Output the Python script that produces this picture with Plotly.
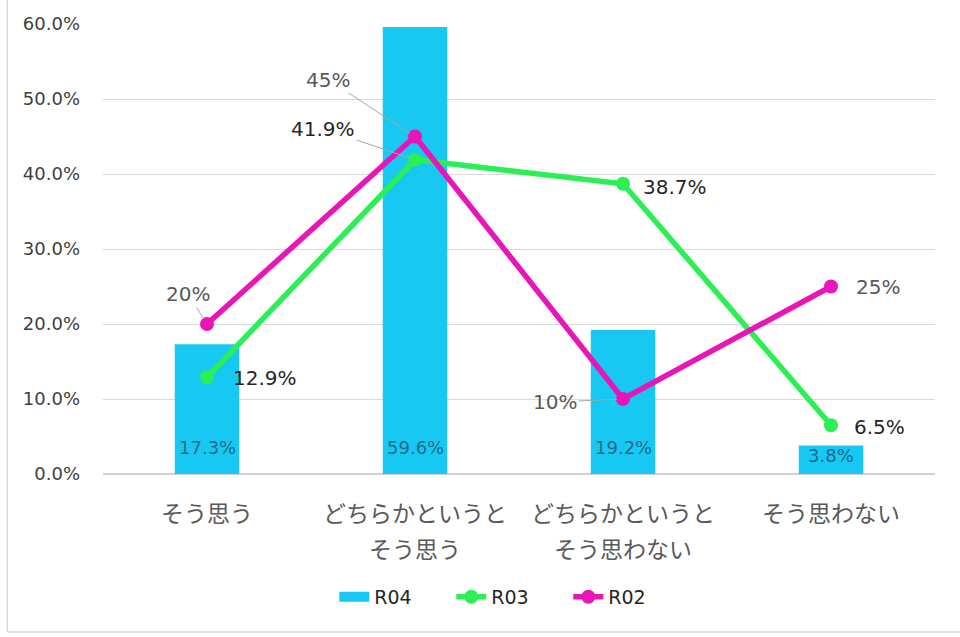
import plotly.graph_objects as go

categories = ["そう思う", "どちらかというと<br>そう思う", "どちらかというと<br>そう思わない", "そう思わない"]
r04 = [17.3, 59.6, 19.2, 3.8]
r03 = [12.9, 41.9, 38.7, 6.5]
r02 = [20, 45, 10, 25]
series_names = ["R04", "R03", "R02"]
yticks = [0, 10, 20, 30, 40, 50, 60]

# label placement styles (pixel offsets from the point) and whether a leader line is drawn
r03_offsets = [(58, 1, False), (-92, -31, True), (52, 3, False), (48, 2, False)]
r02_offsets = [(-19, -30, True), (-87, -57, True), (-68, 3, True), (47, 0, False)]

BLUE = "#16c8f2"
GREEN = "#2bef55"
MAGENTA = "#e815b9"
FONT = "DejaVu Sans, Noto Sans CJK JP, sans-serif"
JFONT = "Noto Sans CJK JP, sans-serif"

fig = go.Figure()
fig.add_trace(go.Bar(
    x=categories, y=r04, name=series_names[0], width=0.31, showlegend=False,
    marker=dict(color=BLUE, line=dict(width=0)),
))
# legend proxy for the bar series (wide swatch like the original)
fig.add_trace(go.Scatter(
    x=[None], y=[None], name=series_names[0], mode="lines",
    line=dict(color=BLUE, width=14),
))
fig.add_trace(go.Scatter(
    x=categories, y=r03, name=series_names[1], mode="lines+markers",
    line=dict(color=GREEN, width=5.5), marker=dict(size=14, color=GREEN),
))
fig.add_trace(go.Scatter(
    x=categories, y=r02, name=series_names[2], mode="lines+markers",
    line=dict(color=MAGENTA, width=5.5), marker=dict(size=14, color=MAGENTA),
))

annotations = []
# bar labels (inside base)
px_per_unit = 450 / 60
for c, v in zip(categories, r04):
    annotations.append(dict(
        x=c, y=0, xref="x", yref="y", text=f"{v:.1f}%", showarrow=False,
        yanchor="bottom", yshift=min(14, v * px_per_unit - 22),
        font=dict(family=FONT, size=18, color="#1d6b8f"),
    ))

def line_labels(vals, offsets, fmt, color):
    for c, v, (dx, dy, leader) in zip(categories, vals, offsets):
        txt = fmt(v)
        if leader:
            annotations.append(dict(
                x=c, y=v, xref="x", yref="y", text=txt, showarrow=True,
                ax=dx, ay=dy, arrowhead=0, arrowwidth=1, arrowcolor="#a6a6a6",
                standoff=6, font=dict(family=FONT, size=20, color=color),
            ))
        else:
            annotations.append(dict(
                x=c, y=v, xref="x", yref="y", text=txt, showarrow=False,
                xshift=dx, yshift=-dy, font=dict(family=FONT, size=20, color=color),
            ))

line_labels(r03, r03_offsets, lambda v: f"{v:.1f}%", "#262626")
line_labels(r02, r02_offsets, lambda v: f"{v:.0f}%", "#595959")

# category labels (two lines with wide spacing)
for c in categories:
    parts = c.split("<br>")
    for i, p in enumerate(parts):
        annotations.append(dict(
            x=c, y=0, xref="x", yref="paper", text=p, showarrow=False,
            yanchor="middle", yshift=-38 - 36 * i,
            font=dict(family=JFONT, size=23, color="#595959"),
        ))

fig.update_layout(
    width=960, height=637,
    margin=dict(l=103, r=25, t=24, b=163),
    paper_bgcolor="white", plot_bgcolor="white",
    showlegend=True,
    legend=dict(orientation="h", x=0.278, xanchor="left", y=-0.273, yanchor="middle",
                font=dict(family=FONT, size=19, color="#262626"),
                itemwidth=30, entrywidth=72, entrywidthmode="pixels",
                tracegroupgap=0, traceorder="normal"),
    annotations=annotations,
    shapes=[
        dict(type="line", xref="paper", yref="paper", x0=-0.115, x1=-0.115, y0=-0.351, y1=1.06,
             line=dict(color="#d9d9d9", width=1.5)),
        dict(type="line", xref="paper", yref="paper", x0=-0.115, x1=1.03, y0=-0.351, y1=-0.351,
             line=dict(color="#d9d9d9", width=1.5)),
    ],
)
fig.update_xaxes(
    type="category", showticklabels=False, showgrid=False, zeroline=False,
    showline=False, ticks="",
)
fig.update_yaxes(
    range=[0, 60], tickvals=yticks, ticktext=[f"{t:.1f}%" for t in yticks],
    showgrid=True, gridcolor="#d9d9d9", gridwidth=1.2,
    zeroline=True, zerolinecolor="#d0d0d0", zerolinewidth=1.5,
    showline=False, ticks="", ticklabelstandoff=22,
    tickfont=dict(family=FONT, size=18, color="#404040"),
)

fig.write_html("out.html", config={"displayModeBar": False},
               post_script="document.body.style.margin='0';")
